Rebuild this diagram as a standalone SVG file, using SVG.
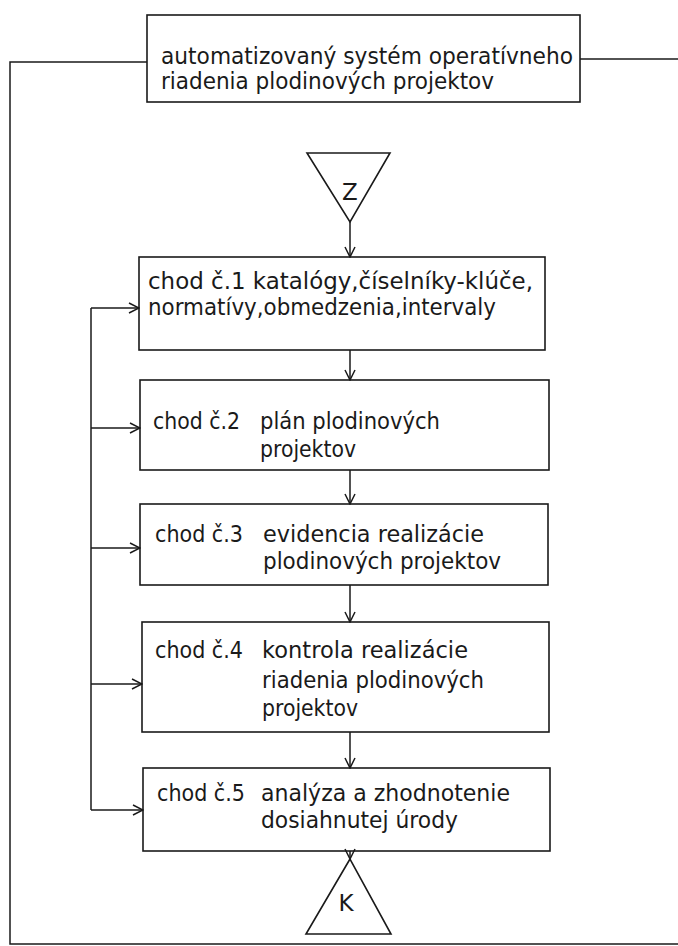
<svg xmlns="http://www.w3.org/2000/svg" width="678" height="946" viewBox="0 0 678 946">
<style>
.box{fill:none;stroke:#1a1a1a;stroke-width:1.6}
.ln{fill:none;stroke:#1a1a1a;stroke-width:1.5}
.t{font-family:"DejaVu Sans","Liberation Sans",sans-serif;font-size:23px;fill:#1a1a1a}
.lbl{font-family:"DejaVu Sans","Liberation Sans",sans-serif;font-size:23px;fill:#1a1a1a;text-anchor:middle}
</style>
<defs>
<marker id="ah" viewBox="0 0 12 12" refX="11" refY="6" markerWidth="12" markerHeight="12" markerUnits="userSpaceOnUse" orient="auto">
<path d="M1,1 L11,6 L1,11" fill="none" stroke="#1a1a1a" stroke-width="1.5"/>
</marker>
</defs>
<rect width="678" height="946" fill="#ffffff"/>

<g id="system">
<rect class="box" x="147" y="15" width="433" height="87"/>
<text class="t" x="161" y="64" textLength="412" lengthAdjust="spacingAndGlyphs">automatizovaný systém operatívneho</text>
<text class="t" x="161" y="89" textLength="333" lengthAdjust="spacingAndGlyphs">riadenia plodinových projektov</text>
</g>

<g id="start-Z">
<polygon class="box" points="307,153 390,153 350,222"/>
<text class="lbl" x="350" y="200">Z</text>
</g>

<g id="chod1">
<rect class="box" x="139" y="257" width="406" height="93"/>
<text class="t" x="148" y="289" textLength="385" lengthAdjust="spacingAndGlyphs">chod č.1 katalógy,číselníky-klúče,</text>
<text class="t" x="148" y="315" textLength="348" lengthAdjust="spacingAndGlyphs">normatívy,obmedzenia,intervaly</text>
</g>

<g id="chod2">
<rect class="box" x="140" y="380" width="409" height="90"/>
<text class="t" x="153" y="429" textLength="87" lengthAdjust="spacingAndGlyphs">chod č.2</text>
<text class="t" x="260" y="429" textLength="180" lengthAdjust="spacingAndGlyphs">plán plodinových</text>
<text class="t" x="260" y="457" textLength="96" lengthAdjust="spacingAndGlyphs">projektov</text>
</g>

<g id="chod3">
<rect class="box" x="140" y="504" width="408" height="81"/>
<text class="t" x="155" y="542" textLength="88" lengthAdjust="spacingAndGlyphs">chod č.3</text>
<text class="t" x="263" y="542" textLength="221" lengthAdjust="spacingAndGlyphs">evidencia realizácie</text>
<text class="t" x="263" y="569" textLength="238" lengthAdjust="spacingAndGlyphs">plodinových projektov</text>
</g>

<g id="chod4">
<rect class="box" x="142" y="622" width="407" height="110"/>
<text class="t" x="155" y="658" textLength="88" lengthAdjust="spacingAndGlyphs">chod č.4</text>
<text class="t" x="262" y="658" textLength="206" lengthAdjust="spacingAndGlyphs">kontrola realizácie</text>
<text class="t" x="262" y="688" textLength="222" lengthAdjust="spacingAndGlyphs">riadenia plodinových</text>
<text class="t" x="262" y="716" textLength="96" lengthAdjust="spacingAndGlyphs">projektov</text>
</g>

<g id="chod5">
<rect class="box" x="143" y="768" width="407" height="83"/>
<text class="t" x="157" y="801" textLength="88" lengthAdjust="spacingAndGlyphs">chod č.5</text>
<text class="t" x="261" y="801" textLength="249" lengthAdjust="spacingAndGlyphs">analýza a zhodnotenie</text>
<text class="t" x="261" y="828" textLength="197" lengthAdjust="spacingAndGlyphs">dosiahnutej úrody</text>
</g>

<g id="end-K">
<polygon class="box" points="350,859 306,934 391,934"/>
<text class="lbl" x="346" y="911">K</text>
</g>

<g id="connectors">
<line class="ln" x1="350" y1="222" x2="350" y2="257" marker-end="url(#ah)"/>
<line class="ln" x1="350" y1="350" x2="350" y2="380" marker-end="url(#ah)"/>
<line class="ln" x1="350" y1="470" x2="350" y2="504" marker-end="url(#ah)"/>
<line class="ln" x1="350" y1="585" x2="350" y2="622" marker-end="url(#ah)"/>
<line class="ln" x1="350" y1="732" x2="350" y2="768" marker-end="url(#ah)"/>
<line class="ln" x1="350" y1="851" x2="350" y2="859" marker-end="url(#ah)"/>
<polyline class="ln" points="91,810 91,308"/>
<line class="ln" x1="91" y1="308" x2="139" y2="308" marker-end="url(#ah)"/>
<line class="ln" x1="91" y1="428" x2="140" y2="428" marker-end="url(#ah)"/>
<line class="ln" x1="91" y1="548" x2="140" y2="548" marker-end="url(#ah)"/>
<line class="ln" x1="91" y1="684" x2="142" y2="684" marker-end="url(#ah)"/>
<line class="ln" x1="91" y1="810" x2="143" y2="810" marker-end="url(#ah)"/>
<polyline class="ln" points="147,62 10,62 10,944 678,944"/>
<line class="ln" x1="580" y1="59" x2="678" y2="59"/>
</g>
</svg>
